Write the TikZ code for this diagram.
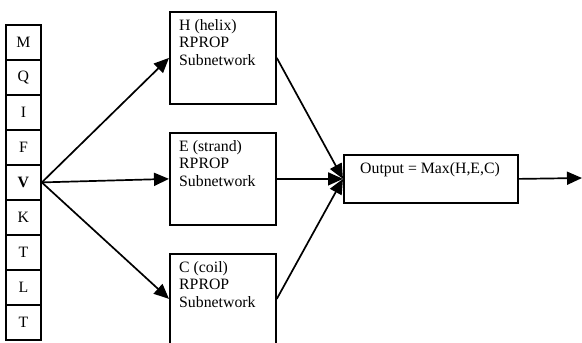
\documentclass[tikz,border=0pt]{standalone}
\usepackage{fontspec}
\setmainfont{Liberation Serif}
\usetikzlibrary{arrows.meta}
\begin{document}
\begin{tikzpicture}[x=1pt,y=-1pt,
  every node/.style={inner sep=0pt, font=\fontsize{15.8}{17.5}\selectfont},
  cell/.style={draw, line width=1.8pt, minimum width=35pt, minimum height=35pt, anchor=north west},
  netbox/.style={draw, line width=1.8pt, minimum width=106pt, minimum height=92pt, anchor=north west},
  boxtext/.style={anchor=north west, align=left},
  arr/.style={line width=1.7pt, -{Triangle[length=15pt,width=13pt]}}]
\useasboundingbox (0,0) rectangle (582,343);
\node[cell] (c1) at (5,24) {M};
\node[cell] (c2) at (5,59) {Q};
\node[cell] (c3) at (5,94) {I};
\node[cell] (c4) at (5,129) {F};
\node[cell] (c5) at (5,164) {\textbf{V}};
\node[cell] (c6) at (5,199) {K};
\node[cell] (c7) at (5,234) {T};
\node[cell] (c8) at (5,269) {L};
\node[cell] (c9) at (5,304) {T};

\node[netbox] (hbox) at (169,11) {};
\node[netbox] (ebox) at (169,132) {};
\node[netbox, minimum height=90pt] (cbox) at (169,253) {};
\node[boxtext] (htext) at (179,19) {H (helix)\\RPROP\\Subnetwork};
\node[boxtext] (etext) at (179,140) {E (strand)\\RPROP\\Subnetwork};
\node[boxtext] (ctext) at (179,261) {C (coil)\\RPROP\\Subnetwork};

\node[draw, line width=1.8pt, minimum width=174pt, minimum height=48pt, anchor=north west] (out) at (343,154) {};
\node[anchor=north west] (outtext) at (360,162) {Output = Max(H,E,C)};
\coordinate (end) at (582,178);

\draw[arr] (c5.east) -- (hbox.west);
\draw[arr] (c5.east) -- (ebox.west);
\draw[arr] (c5.east) -- (cbox.west);
\draw[arr] (hbox.east) -- (out.west);
\draw[arr] (ebox.east) -- (out.west);
\draw[arr] (cbox.east) -- (out.west);
\draw[arr] (out.east) -- (end);
\end{tikzpicture}
\end{document}
